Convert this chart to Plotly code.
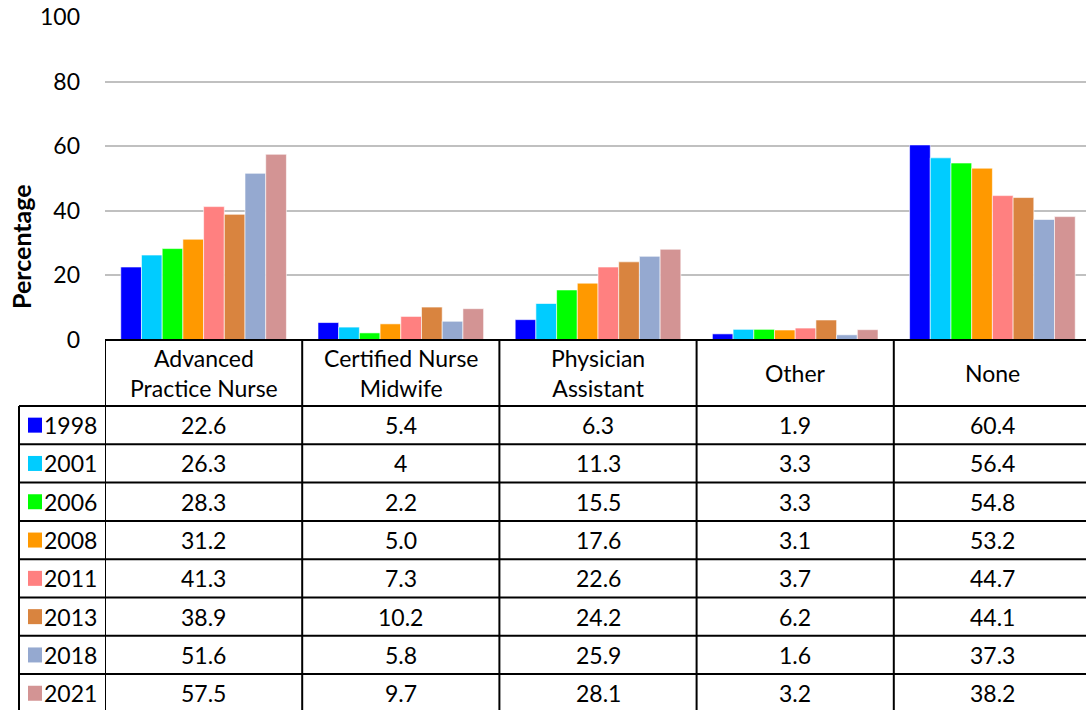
import plotly.graph_objects as go

# ---------------- data ----------------
categories = ["Advanced Practice Nurse", "Certified Nurse Midwife",
              "Physician Assistant", "Other", "None"]
header_labels = ["Advanced<br>Practice Nurse", "Certified Nurse<br>Midwife",
                 "Physician<br>Assistant", "Other", "None"]
years = ["1998", "2001", "2006", "2008", "2011", "2013", "2018", "2021"]
v1998 = [22.6, 5.4, 6.3, 1.9, 60.4]
v2001 = [26.3, 4, 11.3, 3.3, 56.4]
v2006 = [28.3, 2.2, 15.5, 3.3, 54.8]
v2008 = [31.2, 5.0, 17.6, 3.1, 53.2]
v2011 = [41.3, 7.3, 22.6, 3.7, 44.7]
v2013 = [38.9, 10.2, 24.2, 6.2, 44.1]
v2018 = [51.6, 5.8, 25.9, 1.6, 37.3]
v2021 = [57.5, 9.7, 28.1, 3.2, 38.2]
series = [v1998, v2001, v2006, v2008, v2011, v2013, v2018, v2021]
colors = ["#0000FF", "#00CCFF", "#00FF00", "#FF9900",
          "#FF8080", "#D9843F", "#95A9D0", "#D39494"]
y_ticks = [0, 20, 40, 60, 80, 100]

# ---------------- layout geometry ----------------
W, H = 1086, 710
L, R, T, B = 105, 0, 17, 370
PW, PH = W - L - R, H - T - B
AX_Y = H - B  # pixel y of the zero line
COL_W = 197.2  # pixel width of one category column (last one runs off the edge)
X_MAX = -0.5 + PW / COL_W


def px(x):
    return (x - L) / PW


def py(y):
    return (AX_Y - y) / PH


FONT = "Lato, 'Open Sans', sans-serif"
FS = 23
HEADER_BOTTOM = 406
ROW_H = 38.3
TABLE_BOTTOM = HEADER_BOTTOM + ROW_H * len(years)
LEFT_EDGE = 19

fig = go.Figure()
for yr, vals, col in zip(years, series, colors):
    fig.add_trace(go.Bar(
        name=yr, x=categories, y=vals,
        marker=dict(color=col, line=dict(color="white", width=0.6)),
        showlegend=False,
    ))

shapes = []
line = dict(color="black", width=2)
# top border / axis line
shapes.append(dict(type="line", xref="paper", yref="paper",
                   x0=0, x1=1, y0=0, y1=0, line=line))
# vertical column lines
for i in range(len(categories)):
    shapes.append(dict(type="line", xref="x", yref="paper",
                       x0=i - 0.5, x1=i - 0.5, y0=0, y1=py(TABLE_BOTTOM), line=line))
# legend column left edge
shapes.append(dict(type="line", xref="paper", yref="paper",
                   x0=px(LEFT_EDGE), x1=px(LEFT_EDGE),
                   y0=py(HEADER_BOTTOM), y1=py(TABLE_BOTTOM), line=line))
# horizontal row lines
for k in range(len(years) + 1):
    yy = HEADER_BOTTOM + ROW_H * k
    shapes.append(dict(type="line", xref="paper", yref="paper",
                       x0=px(LEFT_EDGE), x1=1, y0=py(yy), y1=py(yy), line=line))

annotations = []
# header labels
for i, lab in enumerate(header_labels):
    annotations.append(dict(x=i, y=py((AX_Y + HEADER_BOTTOM) / 2), xref="x", yref="paper",
                            text=lab, showarrow=False, xanchor="center", yanchor="middle",
                            font=dict(family=FONT, size=FS, color="black")))
# rows
for k, (yr, vals, col) in enumerate(zip(years, series, colors)):
    cy = HEADER_BOTTOM + ROW_H * (k + 0.5)
    shapes.append(dict(type="rect", xref="paper", yref="paper",
                       x0=px(28), x1=px(42), y0=py(cy - 7.5), y1=py(cy + 7.5),
                       fillcolor=col, line=dict(width=0)))
    annotations.append(dict(x=px(42), y=py(cy), xref="paper", yref="paper",
                            text=yr, showarrow=False, xanchor="left", yanchor="middle",
                            font=dict(family=FONT, size=FS, color="black")))
    for i, v in enumerate(vals):
        annotations.append(dict(x=i, y=py(cy), xref="x", yref="paper",
                                text=str(v), showarrow=False, xanchor="center",
                                yanchor="middle",
                                font=dict(family=FONT, size=FS, color="black")))
# y-axis title
annotations.append(dict(x=px(21), y=py(247), xref="paper", yref="paper",
                        text="<b>Percentage</b>", textangle=-90, showarrow=False,
                        xanchor="center", yanchor="middle",
                        font=dict(family=FONT, size=25, color="black")))

fig.update_layout(
    width=W, height=H,
    margin=dict(l=L, r=R, t=T, b=B, pad=0),
    paper_bgcolor="white", plot_bgcolor="white",
    barmode="group", bargap=0.16, bargroupgap=0,
    font=dict(family=FONT, size=FS, color="black"),
    xaxis=dict(showticklabels=False, showgrid=False, zeroline=False,
               showline=False, ticks="", range=[-0.5, X_MAX]),
    yaxis=dict(range=[0, 100], tickvals=y_ticks, showgrid=True,
               gridcolor="#C0C0C0", gridwidth=2, zeroline=False, showline=False,
               ticks="", ticklabelstandoff=24,
               tickfont=dict(family=FONT, size=FS, color="black")),
    shapes=shapes, annotations=annotations,
)

fig.write_html("out.html", config={"displayModeBar": False},
               post_script="document.body.style.margin='0';document.body.style.overflow='hidden';")
